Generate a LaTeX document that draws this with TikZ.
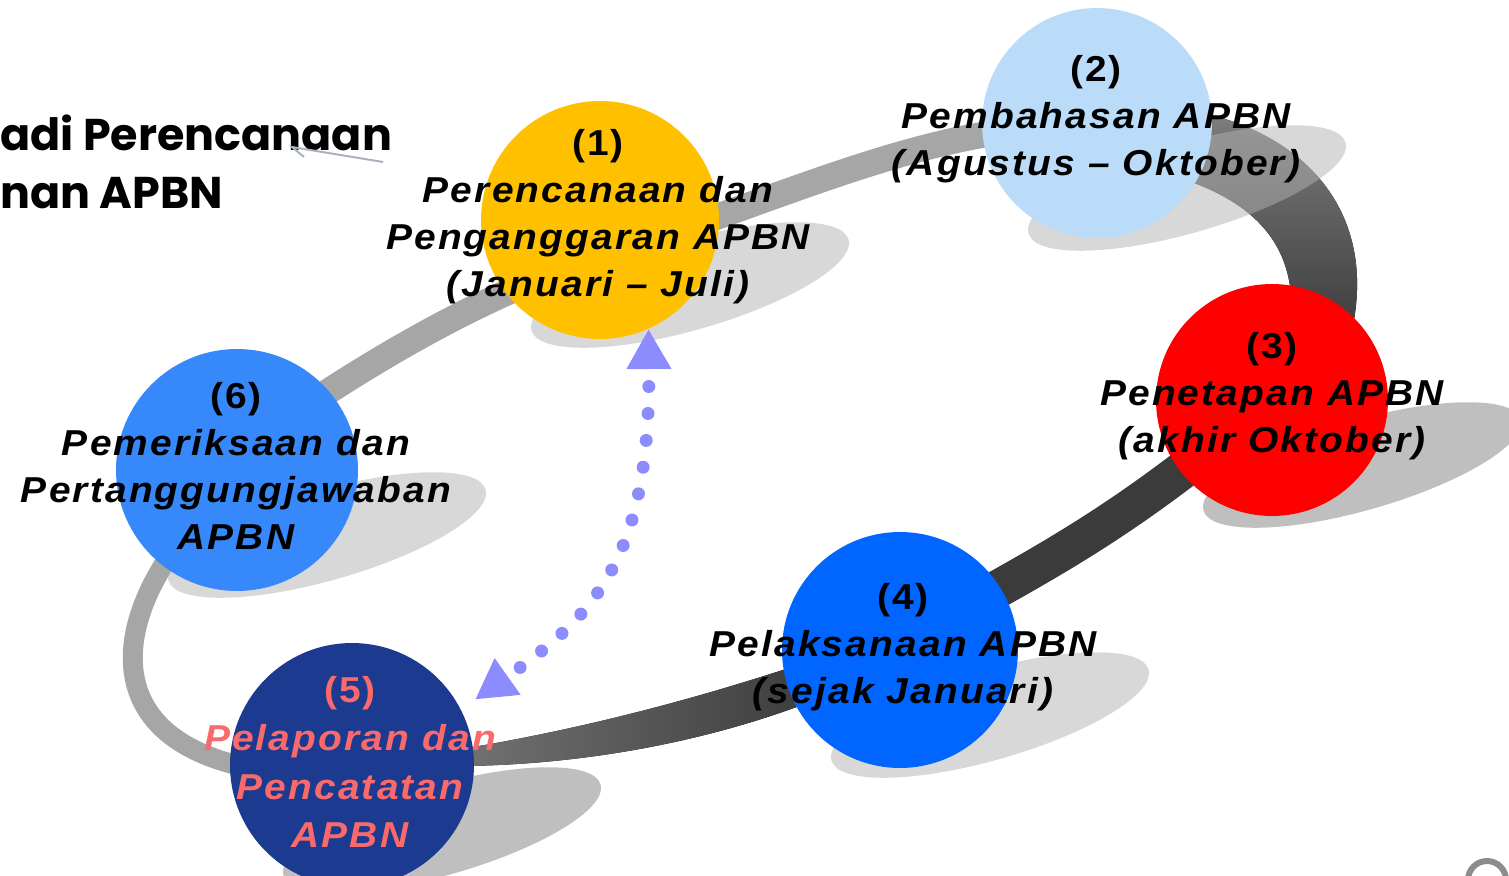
\documentclass[tikz,border=0pt]{standalone}
\usepackage{fontspec}
\setmainfont{Liberation Sans}
\newfontfamily\hdrfont{Poppins}
\newfontfamily\lblfont{Liberation Sans}[LetterSpace=6,FakeStretch=1.08]
\usetikzlibrary{arrows.meta}
\definecolor{cyellow}{HTML}{FFC000}
\definecolor{clight}{HTML}{BBDCF8}
\definecolor{cred}{HTML}{FF0000}
\definecolor{cblue}{HTML}{0066FF}
\definecolor{cnavy}{HTML}{1B3A90}
\definecolor{cmid}{HTML}{3788FA}
\definecolor{csalmon}{HTML}{FA6A6A}
\definecolor{carrow}{HTML}{8C8CFF}
\definecolor{chdrline}{HTML}{A9B0BE}
\begin{document}
\begin{tikzpicture}[x=0.02cm,y=-0.02cm,
  circ/.style={circle,inner sep=0pt,draw=none},
  lbl/.style={align=center,inner sep=0pt,font=\lblfont\fontsize{20.5}{26.7}\selectfont\bfseries\itshape},
  hdr/.style={anchor=base west,inner sep=0pt,font=\hdrfont\fontsize{25.3}{30}\selectfont\bfseries},
  shlight/.style={fill=black!30,fill opacity=0.5},
  shdark/.style={fill=black!50,fill opacity=0.5},
  bandlight/.style={draw=black!35,line cap=butt},
  dotarrow/.style={draw=carrow,line width=0.26cm,line cap=round,
     dash pattern=on 0pt off 0.54cm,dash phase=0.14cm,
     {Triangle[length=0.8cm,width=0.84cm]}-{Triangle[length=0.8cm,width=0.84cm]}}
]
\useasboundingbox (0,0) rectangle (1509,876);
\clip (0,0) rectangle (1509,876);

% ---- ring bands ----
\draw[bandlight,line width=0.52cm] (300,410) .. controls (420,330) and (520,280) .. (620,250)
   .. controls (760,205) and (880,150) .. (1000,132);
\draw[bandlight,line width=0.4cm] (170,555) .. controls (112,640) and (110,740) .. (250,768);
\fill[top color=black!50,bottom color=black!76] (1150,105) .. controls (1290,115) and (1380,200) .. (1352,330)
   -- (1290,330) .. controls (1300,250) and (1260,195) .. (1150,170) -- cycle;
\draw[black!77,line width=0.76cm] (1215,445) .. controls (1120,520) and (1060,555) .. (960,610);
\fill[left color=black!55,right color=black!76] (810,661) .. controls (700,698) and (580,730) .. (455,750)
   -- (455,766) .. controls (560,766) and (690,748) .. (810,702) -- cycle;

% ---- shadows ----
\fill[shlight,rotate around={16:(690,285)}] (690,285) ellipse [x radius=165,y radius=45];
\fill[shlight,rotate around={16:(1187,188)}] (1187,188) ellipse [x radius=165,y radius=45];
\fill[shdark,rotate around={16:(1362,465)}] (1362,465) ellipse [x radius=165,y radius=45];
\fill[shlight,rotate around={16:(990,715)}] (990,715) ellipse [x radius=165,y radius=45];
\fill[shdark,rotate around={16:(442,830)}] (442,830) ellipse [x radius=165,y radius=45];
\fill[shlight,rotate around={16:(327,535)}] (327,535) ellipse [x radius=165,y radius=45];

% ---- circles ----
\node[circ,fill=cyellow,minimum size=4.76cm] (c1) at (600,220) {};
\node[circ,fill=clight,minimum size=4.6cm] (c2) at (1097,123) {};
\node[circ,fill=cred,minimum size=4.64cm] (c3) at (1272,400) {};
\node[circ,fill=cblue,minimum size=4.72cm] (c4) at (900,650) {};
\node[circ,fill=cnavy,minimum size=4.88cm] (c5) at (352,765) {};
\node[circ,fill=cmid,minimum size=4.84cm] (c6) at (237,470) {};

% ---- dotted two-way arrow ----
\draw[dotarrow] (c1.-66) .. controls +(2,230) and +(120,-85) .. ([shift={(15,-8)}]c5.28);

% ---- labels ----
\node[lbl] (t1) at (598,217) {{\upshape(1)}\\Perencanaan dan\\Penganggaran APBN\\(Januari – Juli)};
\node[lbl] (t2) at (1096,119) {{\upshape(2)}\\Pembahasan APBN\\(Agustus – Oktober)};
\node[lbl] (t3) at (1272,396) {{\upshape(3)}\\Penetapan APBN\\(akhir Oktober)};
\node[lbl] (t4) at (903,647) {{\upshape(4)}\\Pelaksanaan APBN\\(sejak Januari)};
\node[lbl,text=csalmon,font=\lblfont\fontsize{20.5}{27.6}\selectfont\bfseries\itshape] (t5) at (350,762) {{\upshape(5)}\\Pelaporan dan\\Pencatatan\\APBN};
\node[lbl] (t6) at (236,466) {{\upshape(6)}\\Pemeriksaan dan\\Pertanggungjawaban\\APBN};

% ---- header text ----
\node[hdr] (h1) at (0,150) {adi Perencanaan};
\node[hdr] (h2) at (0,208) {nan APBN};
\coordinate (l1) at (383,162);
\coordinate (l2) at (292,147);
\coordinate (l3) at (304,157);
\draw[chdrline,line width=0.04cm] (l1) -- (l2) -- (l3);

% ---- corner ring ----
\node[circ,draw=black!45,line width=0.12cm,minimum size=0.76cm] (r1) at (1487,880) {};
\end{tikzpicture}
\end{document}
